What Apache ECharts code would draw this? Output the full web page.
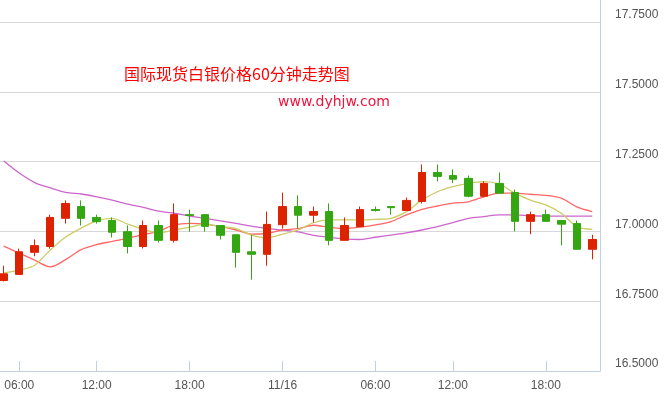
<!DOCTYPE html>
<html>
<head>
<meta charset="utf-8">
<script src="https://cdn.jsdelivr.net/npm/echarts@6/dist/echarts.min.js"></script>
<style>
html,body{margin:0;padding:0;background:#fff;overflow:hidden;}
#main{position:absolute;left:-4px;top:0;width:674px;height:400px;}
</style>
</head>
<body>
<div id="main"></div>
<script>
// ---- data ----
const times = [
  '11/15 05:00','11/15 06:00','11/15 07:00','11/15 08:00','11/15 09:00','11/15 10:00',
  '11/15 12:00','11/15 13:00','11/15 14:00','11/15 15:00','11/15 16:00','11/15 17:00',
  '11/15 18:00','11/15 19:00','11/15 20:00','11/15 21:00','11/15 22:00','11/15 23:00',
  '11/16 00:00','11/16 01:00','11/16 02:00','11/16 03:00','11/16 04:00','11/16 05:00',
  '11/16 06:00','11/16 07:00','11/16 08:00','11/16 09:00','11/16 10:00',
  '11/16 12:00','11/16 13:00','11/16 14:00','11/16 15:00','11/16 16:00','11/16 17:00',
  '11/16 18:00','11/16 19:00','11/16 20:00','11/16 21:00'
];
const openP  = [16.824,16.846,16.925,16.946,17.047,17.089,17.050,17.039,16.999,16.946,17.021,16.968,17.060,17.060,17.021,16.988,16.927,16.918,17.024,17.089,17.058,17.071,16.968,17.017,17.078,17.089,17.075,17.107,17.211,17.200,17.190,17.126,17.172,17.139,17.036,17.060,17.039,17.028,16.936];
const closeP = [16.848,16.927,16.949,17.050,17.100,17.047,17.035,16.997,16.946,17.021,16.968,17.060,17.057,17.018,16.986,16.925,16.918,17.025,17.089,17.058,17.071,16.968,17.021,17.078,17.075,17.085,17.111,17.211,17.197,17.187,17.126,17.172,17.137,17.036,17.060,17.036,17.026,16.936,16.971];
const lowP   = [16.821,16.846,16.911,16.938,17.028,17.021,17.028,16.978,16.921,16.939,16.960,16.960,16.999,16.999,16.971,16.870,16.827,16.877,17.010,17.010,17.032,16.950,16.968,17.017,17.071,17.060,17.075,17.100,17.179,17.173,17.122,17.122,17.137,17.000,16.990,17.036,16.950,16.936,16.900];
const highP  = [16.877,16.938,16.971,17.060,17.111,17.111,17.060,17.050,17.021,17.039,17.039,17.100,17.078,17.060,17.021,16.988,16.988,17.071,17.139,17.129,17.089,17.100,17.050,17.089,17.089,17.089,17.121,17.240,17.240,17.222,17.200,17.179,17.211,17.150,17.071,17.078,17.039,17.039,16.988];
const maShort = [16.851,16.861,16.879,16.933,16.980,17.012,17.038,17.047,17.026,17.008,16.995,17.005,17.015,17.026,17.017,17.010,16.987,16.977,16.990,17.005,17.031,17.041,17.041,17.041,17.043,17.047,17.071,17.112,17.142,17.160,17.172,17.178,17.169,17.137,17.112,17.095,17.065,17.017,17.007];
const maMid   = [16.947,16.922,16.897,16.873,16.899,16.935,16.953,16.964,16.976,16.988,17.001,17.023,17.029,17.026,17.017,17.005,16.990,16.993,17.005,17.010,17.022,17.015,17.010,17.015,17.023,17.035,17.059,17.079,17.091,17.101,17.106,17.124,17.137,17.137,17.133,17.129,17.119,17.088,17.071];
const maLong  = [17.252,17.209,17.175,17.156,17.140,17.134,17.124,17.112,17.098,17.086,17.073,17.065,17.055,17.047,17.038,17.029,17.019,17.011,17.005,16.998,16.986,16.979,16.973,16.971,16.979,16.987,16.995,17.005,17.017,17.031,17.047,17.053,17.059,17.059,17.056,17.055,17.055,17.055,17.055];
const yTicks = [16.5, 16.75, 17.0, 17.25, 17.5, 17.75];
const titleText = '国际现货白银价格60分钟走势图';
const siteText = 'www.dyhjw.com';

// ---- build ----
const kData = times.map((t, i) => [openP[i], closeP[i], lowP[i], highP[i]]);
function tickShown(v) {
  const hm = v.split(' ')[1];
  return hm === '00:00' || hm === '06:00' || hm === '12:00' || hm === '18:00';
}
function tickText(v) {
  const parts = v.split(' ');
  return parts[1] === '00:00' ? parts[0] : parts[1];
}

const chart = echarts.init(document.getElementById('main'), null, {renderer: 'canvas'});
chart.setOption({
  backgroundColor: '#ffffff',
  animation: false,
  title: [
    {text: titleText, left: 128, top: 66, padding: 0,
     textStyle: {color: '#ff0000', fontSize: 16, fontWeight: 'normal', fontFamily: 'Noto Sans CJK SC'}},
    {text: siteText, left: 282, top: 95, padding: 0,
     textStyle: {color: '#f0143c', fontSize: 14, fontWeight: 'normal', fontFamily: 'DejaVu Sans'}}
  ],
  grid: {left: 0, right: 70, top: 22, bottom: 29, containLabel: false},
  xAxis: {
    type: 'category',
    data: times,
    boundaryGap: true,
    axisLine: {show: true, lineStyle: {color: '#c0d0e0', width: 1}},
    axisTick: {show: true, inside: true, length: 10, alignWithLabel: true,
               interval: (i, v) => tickShown(v), lineStyle: {color: '#c0d0e0'}},
    axisLabel: {interval: (i, v) => tickShown(v), formatter: v => tickText(v),
                color: '#555', fontSize: 12, fontFamily: 'Liberation Sans', margin: 9},
    splitLine: {show: false}
  },
  yAxis: {
    type: 'value',
    position: 'right',
    min: yTicks[0],
    max: yTicks[yTicks.length - 1],
    interval: 0.25,
    axisLine: {show: true, lineStyle: {color: '#c0d0e0', width: 1}},
    axisTick: {show: false},
    splitLine: {show: true, lineStyle: {color: '#d8d8d8', width: 1}},
    axisLabel: {formatter: v => v.toFixed(4), color: '#555', fontSize: 12,
                fontFamily: 'Liberation Sans', margin: 15, verticalAlign: 'bottom', lineHeight: 14}
  },
  graphic: [
    {type: 'line', shape: {x1: 604.5, y1: 0, x2: 604.5, y2: 22}, style: {stroke: '#c0d0e0', lineWidth: 1}, silent: true}
  ],
  series: [
    {type: 'line', data: maLong, smooth: 0.3, symbol: 'none', z: 2,
     lineStyle: {color: '#cc66cc', width: 1.3}},
    {type: 'line', data: maMid, smooth: 0.3, symbol: 'none', z: 2,
     lineStyle: {color: '#ff6666', width: 1.3}},
    {type: 'line', data: maShort, smooth: 0.3, symbol: 'none', z: 2,
     lineStyle: {color: '#cccc66', width: 1.3}},
    {type: 'candlestick', data: kData, barWidth: 8, z: 3,
     itemStyle: {color: '#dd2200', color0: '#33a611', borderColor: '#dd2200', borderColor0: '#33a611', borderWidth: 1}}
  ]
});
</script>
</body>
</html>
